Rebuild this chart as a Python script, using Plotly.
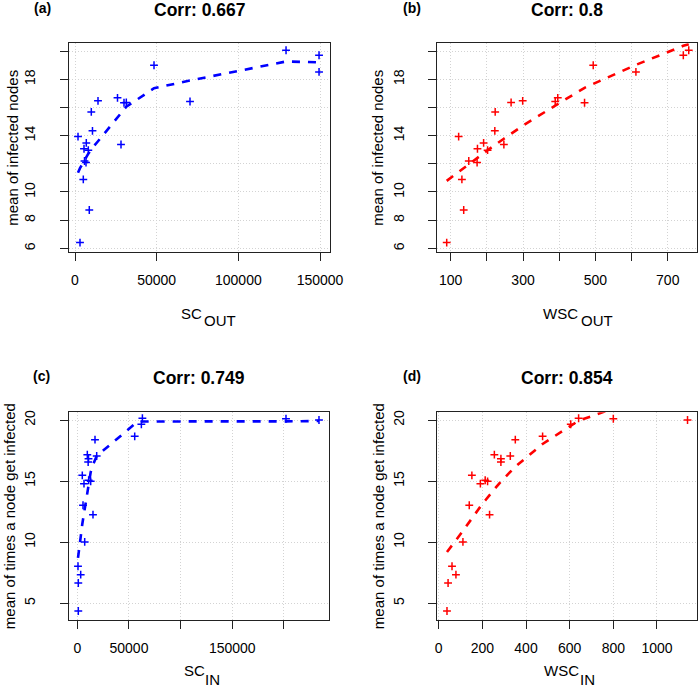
import plotly.graph_objects as go

# ---------------- data ----------------
# panels (a)/(b): mean of infected nodes
y_out = [6.41, 8.72, 10.89, 12.09, 12.20, 12.97, 13.07, 13.37, 13.48, 13.93, 14.34,
         15.68, 16.33, 16.35, 16.42, 16.47, 16.68, 18.52, 18.99, 19.70, 20.06]
sc_out = [3060, 8750, 5080, 6740, 5820, 8140, 5510, 28160, 6920, 1840, 10700,
          9980, 30000, 31410, 70410, 14080, 26020, 149400, 48370, 149400, 129200]
wsc_out = [89, 136, 131, 173, 150, 202, 174, 247, 191, 122, 222,
           223, 470, 267, 389, 299, 396, 612, 494, 743, 758]
fit_sc_out = [11.69, 12.82, 12.08, 12.44, 12.26, 12.72, 12.19, 15.62, 12.47, 11.37, 13.14,
              13.04, 15.87, 16.05, 17.91, 13.60, 15.31, 19.20, 17.36, 19.20, 19.26]
fit_wsc_out = [10.79, 11.72, 11.62, 12.42, 11.98, 12.96, 12.44, 13.78, 12.75, 11.44, 13.33,
               13.35, 17.39, 14.13, 16.13, 14.70, 16.24, 19.02, 17.67, 20.37, 20.49]

# panels (c)/(d): mean of times a node get infected
y_in = [4.37, 6.66, 7.34, 8.03, 10.02, 12.25, 13.02, 14.79, 14.98, 15.07, 15.47,
        16.56, 16.83, 17.05, 17.16, 18.39, 18.66, 19.65, 20.00, 20.10, 20.14]
sc_in = [970, 970, 3290, 680, 7160, 15190, 5520, 6480, 12970, 11000, 4840,
         10500, 10860, 18770, 9700, 17130, 55550, 62000, 233900, 201970, 63000]
wsc_in = [38, 43, 79, 61, 111, 233, 140, 191, 224, 213, 152,
          285, 285, 328, 255, 351, 476, 605, 1140, 800, 641]
fit_sc_in = [8.87, 8.87, 10.43, 8.71, 12.80, 16.32, 11.82, 12.47, 15.74, 14.68, 11.49,
             14.35, 14.56, 17.05, 13.94, 16.81, 19.67, 19.88, 19.92, 19.89, 19.88]
fit_wsc_in = [9.20, 9.31, 10.16, 9.73, 10.92, 13.86, 11.68, 12.91, 13.67, 13.41, 11.98,
              14.96, 14.96, 15.80, 14.33, 16.18, 18.04, 19.55, 21.60, 20.94, 19.94]

titles = ["Corr: 0.667", "Corr: 0.8", "Corr: 0.749", "Corr: 0.854"]
panel_tags = ["(a)", "(b)", "(c)", "(d)"]
ylabels = ["mean of infected nodes", "mean of infected nodes",
           "mean of times a node get infected", "mean of times a node get infected"]
xlab_main = ["SC", "WSC", "SC", "WSC"]
xlab_sub = ["OUT", "OUT", "IN", "IN"]

xtick_vals = [[0, 50000, 100000, 150000],
              [100, 200, 300, 400, 500, 600, 700],
              [0, 50000, 100000, 150000, 200000],
              [0, 200, 400, 600, 800, 1000]]
xtick_text = [["0", "50000", "100000", "150000"],
              ["100", "", "300", "", "500", "", "700"],
              ["0", "50000", "", "150000", ""],
              ["0", "200", "400", "600", "800", "1000"]]
ytick_vals = [[6, 8, 10, 12, 14, 16, 18, 20], [6, 8, 10, 12, 14, 16, 18, 20],
              [5, 10, 15, 20], [5, 10, 15, 20]]
ytick_text = [["6", "8", "10", "", "14", "", "18", ""], ["6", "8", "10", "", "14", "", "18", ""],
              ["5", "10", "15", "20"], ["5", "10", "15", "20"]]

# ---------------- layout geometry (pixels) ----------------
W, H = 700, 688
FONT = "Liberation Sans, Arial, Helvetica, sans-serif"
BLUE, RED = "#0000FF", "#FF0000"

boxes = [(69, 330, 43.3, 252.3), (437.3, 696.7, 43.3, 252.3),
         (69, 329, 412.3, 620), (437.3, 696.7, 412.3, 620)]
xranges = [[-3673, 156110], [63, 780], [-8030, 243590], [-6.4, 1182]]
yranges = [[5.72, 20.55], [5.72, 20.55], [3.63, 20.63], [3.63, 20.63]]

series = [(sc_out, y_out, fit_sc_out, BLUE), (wsc_out, y_out, fit_wsc_out, RED),
          (sc_in, y_in, fit_sc_in, BLUE), (wsc_in, y_in, fit_wsc_in, RED)]

fig = go.Figure()
annotations = []


def px(x):
    return x / W


def py(y):
    return 1 - y / H


title_y = [10, 10, 377.5, 377.5]
ylab_x = [13, 378, 9, 378]
xlab_pos = [  # (main center x, main y, sub center x, sub y)
    (191.5, 314, 219.5, 320.5), (560.5, 314, 597, 320.5),
    (194, 670, 212.5, 679.5), (561, 670.5, 587, 679.5)]
tag_x = [42.5, 412, 41.7, 412]

for i in range(4):
    xs, ys, fit, col = series[i]
    sfx = "" if i == 0 else str(i + 1)
    xa, ya = "x" + sfx, "y" + sfx
    order = sorted(range(len(xs)), key=lambda k: (xs[k], k))
    fig.add_trace(go.Scatter(
        x=[xs[k] for k in order], y=[fit[k] for k in order], mode="lines",
        line=dict(color=col, width=2.6, dash="8px,8px"),
        xaxis=xa, yaxis=ya, showlegend=False, hoverinfo="skip"))
    fig.add_trace(go.Scatter(
        x=xs, y=ys, mode="markers",
        marker=dict(symbol="cross-thin", size=5.6, color=col,
                    line=dict(color=col, width=1.5)),
        xaxis=xa, yaxis=ya, showlegend=False, cliponaxis=False))

    x0, x1, y0, y1 = boxes[i]
    axis_common = dict(showline=True, mirror=True, linecolor="#222", linewidth=1,
                       ticks="outside", ticklen=8, tickcolor="#222", tickwidth=1,
                       showgrid=True, gridcolor="#D3D3D3", griddash="1px,2px", gridwidth=1,
                       zeroline=False, automargin=False,
                       tickfont=dict(family=FONT, size=14, color="#000"))
    fig.update_layout(**{
        "xaxis" + sfx: dict(domain=[px(x0), px(x1)], range=xranges[i], anchor=ya,
                            tickmode="array", tickvals=xtick_vals[i], ticktext=xtick_text[i],
                            ticklabelstandoff=7, **axis_common),
        "yaxis" + sfx: dict(domain=[py(y1), py(y0)], range=yranges[i], anchor=xa,
                            tickmode="array", tickvals=ytick_vals[i], ticktext=ytick_text[i],
                            tickangle=-90, ticklabelstandoff=19, **axis_common),
    })

    cx = (x0 + x1) / 2
    annotations.append(dict(text="<b>" + titles[i] + "</b>", x=px(cx), y=py(title_y[i]),
                            xref="paper", yref="paper", xanchor="center", yanchor="middle",
                            showarrow=False, font=dict(family=FONT, size=17.5, color="#000")))
    annotations.append(dict(text="<b>" + panel_tags[i] + "</b>", x=px(tag_x[i]), y=py(title_y[i] - 1.5),
                            xref="paper", yref="paper", xanchor="center", yanchor="middle",
                            showarrow=False, font=dict(family=FONT, size=14, color="#000")))
    annotations.append(dict(text=ylabels[i], x=px(ylab_x[i]), y=py((y0 + y1) / 2),
                            xref="paper", yref="paper", xanchor="center", yanchor="middle",
                            textangle=-90, showarrow=False,
                            font=dict(family=FONT, size=15, color="#000")))
    mx, my, sx, sy = xlab_pos[i]
    annotations.append(dict(text=xlab_main[i], x=px(mx), y=py(my),
                            xref="paper", yref="paper", xanchor="center", yanchor="middle",
                            showarrow=False, font=dict(family=FONT, size=15, color="#000")))
    annotations.append(dict(text=xlab_sub[i], x=px(sx), y=py(sy),
                            xref="paper", yref="paper", xanchor="center", yanchor="middle",
                            showarrow=False, font=dict(family=FONT, size=15, color="#000")))

fig.update_layout(width=W, height=H, margin=dict(l=0, r=0, t=0, b=0),
                  paper_bgcolor="white", plot_bgcolor="white",
                  annotations=annotations, showlegend=False)

fig.write_html("out.html", config={"displayModeBar": False},
               post_script="document.body.style.margin='0px';document.body.style.overflow='hidden';")
